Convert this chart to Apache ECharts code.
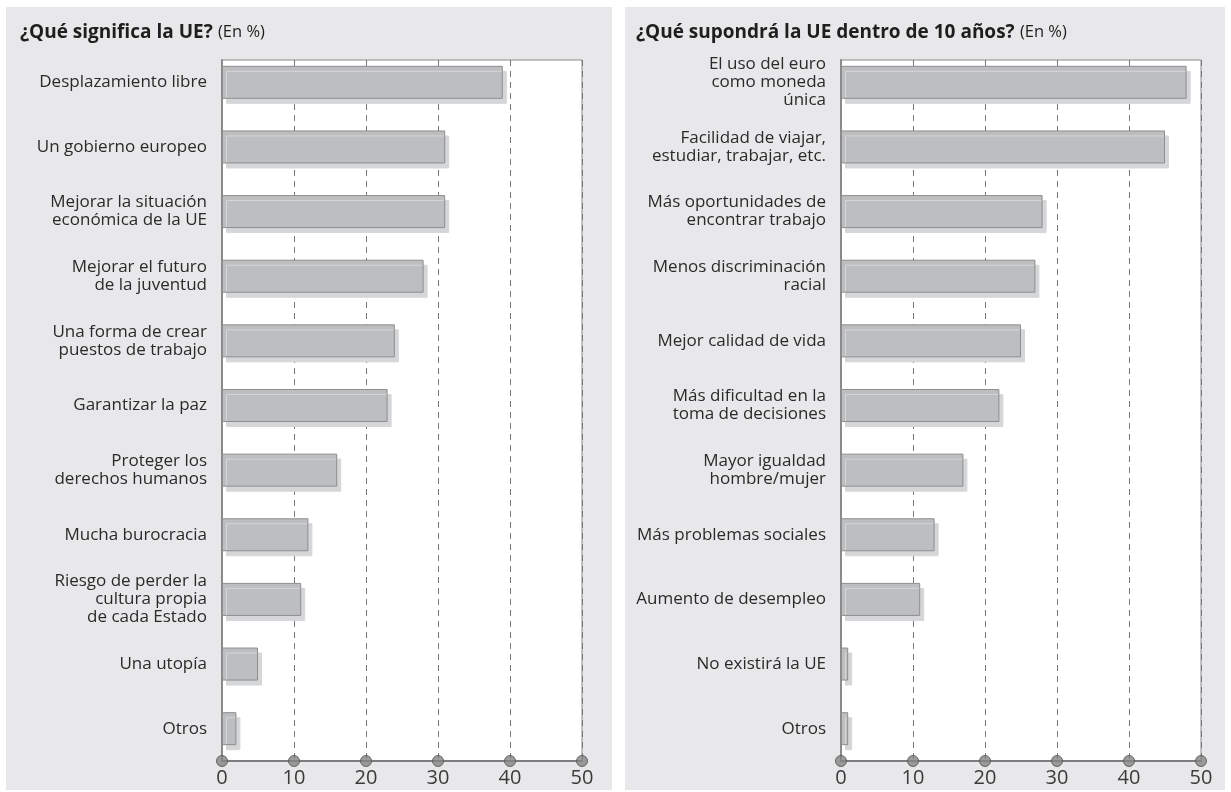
<!DOCTYPE html>
<html lang="es">
<head>
  <meta charset="utf-8">
  <script src="https://cdn.jsdelivr.net/npm/echarts@6.0.0/dist/echarts.min.js"></script>
</head>
<body style="margin: 0; background: #fff">
  <div id="main" style="width: 1231px; height: 792px;"></div>
  <script>
    // panel 1: ¿Qué significa la UE?
    const catsLeft = [
      'Desplazamiento libre',
      'Un gobierno europeo',
      'Mejorar la situación\neconómica de la UE',
      'Mejorar el futuro\nde la juventud',
      'Una forma de crear\npuestos de trabajo',
      'Garantizar la paz',
      'Proteger los\nderechos humanos',
      'Mucha burocracia',
      'Riesgo de perder la\ncultura propia\nde cada Estado',
      'Una utopía',
      'Otros'
    ];
    const valsLeft = [39, 31, 31, 28, 24, 23, 16, 12, 11, 5, 2];

    // panel 2: ¿Qué supondrá la UE dentro de 10 años?
    const catsRight = [
      'El uso del euro\ncomo moneda\núnica',
      'Facilidad de viajar,\nestudiar, trabajar, etc.',
      'Más oportunidades de\nencontrar trabajo',
      'Menos discriminación\nracial',
      'Mejor calidad de vida',
      'Más dificultad en la\ntoma de decisiones',
      'Mayor igualdad\nhombre/mujer',
      'Más problemas sociales',
      'Aumento de desempleo',
      'No existirá la UE',
      'Otros'
    ];
    const valsRight = [48, 45, 28, 27, 25, 22, 17, 13, 11, 1, 1];

    const ticks = [0, 10, 20, 30, 40, 50];

    const font = '"Open Sans", "DejaVu Sans", sans-serif';
    const chart = echarts.init(document.getElementById('main'), null, { renderer: 'canvas' });

    // each panel: a back grid (frame, dashed lines, axis, dots) and a bar grid
    const panels = [
      { left: 222, right: 649 },
      { left: 841, right: 30 }
    ];
    const grids = [];
    const xAxes = [];
    const yAxes = [];
    const series = [];

    panels.forEach((p, i) => {
      const cats = i === 0 ? catsLeft : catsRight;
      const vals = i === 0 ? valsLeft : valsRight;
      const back = i * 2, front = i * 2 + 1;

      grids.push({ left: p.left, right: p.right, top: 60, bottom: 31, show: true,
        backgroundColor: '#fff', borderColor: '#8a8a8a', borderWidth: 1 });
      grids.push({ left: p.left, right: p.right, top: 50, bottom: 31 });

      xAxes.push({
        type: 'value', gridIndex: back, min: 0, max: 50, interval: 10,
        axisLine: { show: true, lineStyle: { color: '#7d7d7d', width: 2 } },
        axisTick: { show: false },
        axisLabel: { color: '#3a3a3a', fontSize: 20, fontFamily: font, margin: 7 },
        splitLine: { show: true, lineStyle: { color: '#777', type: [6, 5], width: 1 } }
      });
      xAxes.push({ type: 'value', gridIndex: front, min: 0, max: 50, show: false });

      yAxes.push({
        type: 'value', gridIndex: back, min: 0, max: 1,
        axisLine: { show: true, lineStyle: { color: '#8a8a8a', width: 2 } },
        axisTick: { show: false }, axisLabel: { show: false }, splitLine: { show: false }
      });
      yAxes.push({
        type: 'category', gridIndex: front, data: cats, inverse: true,
        axisLine: { show: false }, axisTick: { show: false },
        axisLabel: { color: '#2a2a2a', fontSize: 17, fontFamily: font, lineHeight: 18, margin: 15, align: 'right' }
      });

      series.push({
        type: 'bar', xAxisIndex: front, yAxisIndex: front, data: vals, barWidth: 33, z: 3,
        itemStyle: {
          color: '#bdbec0', borderColor: '#8e8e8e', borderWidth: 1,
          shadowColor: '#d5d6d8', shadowOffsetX: 4, shadowOffsetY: 5, shadowBlur: 0
        }
      });
      series.push({
        type: 'scatter', xAxisIndex: back, yAxisIndex: back, clip: false, z: 5,
        data: ticks.map(t => [t, 0]), symbolSize: 11,
        itemStyle: { color: '#858585', borderColor: '#4d4d4d', borderWidth: 1 }
      });
    });

    const titleRich = {
      b: { fontSize: 19, fontWeight: 'bold', color: '#1e1e1e', fontFamily: font },
      n: { fontSize: 16.5, fontWeight: 'normal', color: '#1e1e1e', fontFamily: font }
    };

    chart.setOption({
      animation: false,
      backgroundColor: '#fff',
      graphic: [
        { type: 'rect', shape: { x: 6, y: 7, width: 606, height: 783 }, style: { fill: '#e8e8ea' }, z: -10 },
        { type: 'rect', shape: { x: 625, y: 7, width: 600, height: 783 }, style: { fill: '#e8e8ea' }, z: -10 }
      ],
      title: [
        { text: '{b|¿Qué significa la UE?} {n|(En %)}', left: 20, top: 23, padding: 0,
          textStyle: { fontSize: 19, rich: titleRich } },
        { text: '{b|¿Qué supondrá la UE dentro de 10 años?} {n|(En %)}', left: 636, top: 23, padding: 0,
          textStyle: { fontSize: 19, rich: titleRich } }
      ],
      grid: grids,
      xAxis: xAxes,
      yAxis: yAxes,
      series: series
    });
  </script>
</body>
</html>
